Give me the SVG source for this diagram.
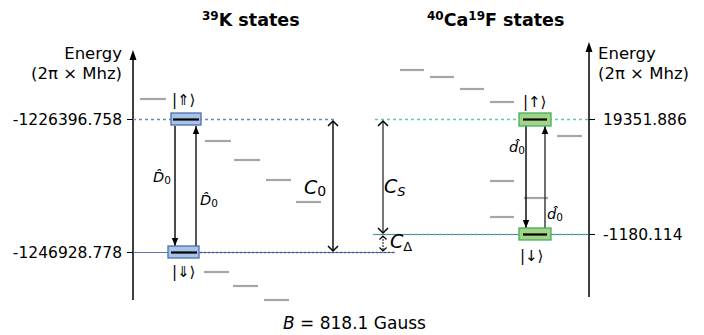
<svg xmlns="http://www.w3.org/2000/svg" width="704" height="335" viewBox="0 0 704 335">
<defs>
<style>
text{font-family:"DejaVu Sans","Liberation Sans",sans-serif;fill:#000}
.lab{font-size:15.5px}
.ax{font-size:16.5px}
.ttl{font-size:17.5px;font-weight:bold}
.ket{font-size:15px}
.op{font-size:14.5px;font-style:italic}
.big{font-size:19px;font-style:italic}
.lvl{stroke:#a6a6a6;stroke-width:2.2}
.axis{stroke:#000;stroke-width:1.5;fill:none}
</style>
<marker id="tri" viewBox="0 0 10 10" refX="10" refY="5" markerWidth="8" markerHeight="8" markerUnits="userSpaceOnUse" orient="auto"><path d="M0,1 L10,5 L0,9 z" fill="#000"/></marker>
<marker id="chev" viewBox="-10 -10 20 20" refX="0" refY="0" markerWidth="20" markerHeight="20" markerUnits="userSpaceOnUse" orient="auto-start-reverse"><path d="M-5,-5 L0,0 L-5,5" fill="none" stroke="#000" stroke-width="1.5"/></marker>
<marker id="chevs" viewBox="-10 -10 20 20" refX="0" refY="0" markerWidth="20" markerHeight="20" markerUnits="userSpaceOnUse" orient="auto-start-reverse"><path d="M-3.5,-3.5 L0,0 L-3.5,3.5" fill="none" stroke="#000" stroke-width="1.2"/></marker>
</defs>
<rect width="704" height="335" fill="#fff"/>

<!-- titles -->
<text class="ttl" x="202" y="26"><tspan font-size="12" dy="-6">39</tspan><tspan dy="6">K states</tspan></text>
<text class="ttl" x="427" y="26"><tspan font-size="12" dy="-6">40</tspan><tspan dy="6">Ca</tspan><tspan font-size="12" dy="-6">19</tspan><tspan dy="6">F states</tspan></text>

<!-- axes -->
<g id="left-axis">
<line class="axis" x1="133" y1="300" x2="133" y2="58"/>
<path d="M133,50 L129.5,60 L136.5,60 z" fill="#000"/>
<text class="ax" x="122" y="59" text-anchor="end">Energy</text>
<text class="ax" x="122" y="79" text-anchor="end">(2π × Mhz)</text>
<line x1="127" y1="119.5" x2="133" y2="119.5" stroke="#000" stroke-width="1"/>
<line x1="127" y1="252.5" x2="133" y2="252.5" stroke="#000" stroke-width="1"/>
<text class="lab" x="122" y="125" text-anchor="end">-1226396.758</text>
<text class="lab" x="122" y="258" text-anchor="end">-1246928.778</text>
</g>
<g id="right-axis">
<line class="axis" x1="589" y1="297" x2="589" y2="50"/>
<path d="M589,42 L585.5,52 L592.5,52 z" fill="#000"/>
<text class="ax" x="598" y="59">Energy</text>
<text class="ax" x="598" y="79">(2π × Mhz)</text>
<line x1="589" y1="119.5" x2="595" y2="119.5" stroke="#000" stroke-width="1"/>
<line x1="589" y1="234.5" x2="595" y2="234.5" stroke="#000" stroke-width="1"/>
<text class="lab" x="603" y="125">19351.886</text>
<text class="lab" x="603" y="240">-1180.114</text>
</g>

<!-- reference lines -->
<g id="ref-lines">
<line x1="133" y1="119.5" x2="337" y2="119.5" stroke="#6b86c7" stroke-width="1.3" stroke-dasharray="3,3"/>
<line x1="133" y1="252.5" x2="395" y2="252.5" stroke="#3d66c0" stroke-width="0.9"/>
<line x1="200" y1="252.5" x2="395" y2="252.5" stroke="#2a3f7a" stroke-width="1.3" stroke-dasharray="2,2" opacity="0.6"/>
<line x1="375" y1="119.5" x2="589" y2="119.5" stroke="#5fcf8f" stroke-width="1.3" stroke-dasharray="3,3"/>
<line x1="373" y1="234.5" x2="589" y2="234.5" stroke="#3d66c0" stroke-width="0.9"/>
<line x1="373" y1="234.5" x2="589" y2="234.5" stroke="#4fc07a" stroke-width="1.3" stroke-dasharray="3,3" opacity="0.8"/>
</g>

<!-- gray levels K -->
<g id="k-levels">
<line class="lvl" x1="140" y1="99" x2="166" y2="99"/>
<line class="lvl" x1="205" y1="141" x2="231" y2="141"/>
<line class="lvl" x1="234" y1="160" x2="260" y2="160"/>
<line class="lvl" x1="266" y1="180" x2="291" y2="180"/>
<line class="lvl" x1="296" y1="202" x2="321" y2="202"/>
<line class="lvl" x1="204" y1="272" x2="229" y2="272"/>
<line class="lvl" x1="233" y1="286" x2="258" y2="286"/>
<line class="lvl" x1="264" y1="300" x2="289" y2="300"/>
</g>
<!-- gray levels CaF -->
<g id="caf-levels">
<line class="lvl" x1="400" y1="70" x2="424" y2="70"/>
<line class="lvl" x1="430" y1="77" x2="454" y2="77"/>
<line class="lvl" x1="460" y1="89" x2="484" y2="89"/>
<line class="lvl" x1="490" y1="102" x2="514" y2="102"/>
<line class="lvl" x1="557" y1="136" x2="582" y2="136"/>
<line class="lvl" x1="490" y1="181" x2="514" y2="181"/>
<line class="lvl" x1="524" y1="198" x2="548" y2="198"/>
<line class="lvl" x1="490" y1="217" x2="514" y2="217"/>
</g>

<!-- connectors -->
<g id="connectors">
<line x1="175" y1="126" x2="175" y2="246" stroke="#000" stroke-width="1.4" marker-end="url(#tri)"/>
<line x1="196" y1="246" x2="196" y2="126" stroke="#444" stroke-width="1.8" marker-end="url(#tri)"/>
<line x1="526" y1="126" x2="526" y2="228" stroke="#000" stroke-width="1.4" marker-end="url(#tri)"/>
<line x1="545" y1="228" x2="545" y2="126" stroke="#222" stroke-width="1.3" marker-end="url(#tri)"/>
<line x1="333" y1="121" x2="333" y2="251" stroke="#000" stroke-width="1.4" marker-start="url(#chev)" marker-end="url(#chev)"/>
<line x1="383" y1="121" x2="383" y2="233" stroke="#555" stroke-width="1.6" marker-start="url(#chev)" marker-end="url(#chev)"/>
<line x1="383" y1="236" x2="383" y2="251" stroke="#333" stroke-width="1.2" stroke-dasharray="2,1" marker-start="url(#chevs)" marker-end="url(#chevs)"/>
</g>

<!-- K states -->
<g id="k-up">
<rect x="171" y="113" width="30" height="12" fill="#a9c3e8" stroke="#4a6fae" stroke-width="1.3"/>
<line x1="173" y1="119.5" x2="199" y2="119.5" stroke="#000" stroke-width="2.2"/>
<text class="ket" x="172" y="105">|⇑⟩</text>
</g>
<g id="k-down">
<rect x="168" y="246" width="31" height="12" fill="#a9c3e8" stroke="#4a6fae" stroke-width="1.3"/>
<line x1="171" y1="252.5" x2="197" y2="252.5" stroke="#000" stroke-width="2.2"/>
<text class="ket" x="172" y="277">|⇓⟩</text>
</g>
<!-- CaF states -->
<g id="caf-up">
<rect x="519" y="113" width="32" height="13" fill="#a3d483" stroke="#3fb060" stroke-width="1.3"/>
<line x1="523" y1="119.5" x2="547" y2="119.5" stroke="#000" stroke-width="2.2"/>
<text class="ket" x="523" y="107">|↑⟩</text>
</g>
<g id="caf-down">
<rect x="519" y="228" width="32" height="12" fill="#a3d483" stroke="#3fb060" stroke-width="1.3"/>
<line x1="523" y1="234.5" x2="547" y2="234.5" stroke="#000" stroke-width="2.2"/>
<text class="ket" x="520" y="261">|↓⟩</text>
</g>

<!-- operator labels -->
<text class="op" x="153" y="182">D̂<tspan font-size="10.5" font-style="normal" dy="2">0</tspan></text>
<text class="op" x="200" y="205">D̂<tspan font-size="10.5" font-style="normal" dy="2">0</tspan></text>
<text class="op" x="509" y="152">d̂<tspan font-size="10.5" font-style="normal" dy="2">0</tspan></text>
<text class="op" x="547" y="219">d̂<tspan font-size="10.5" font-style="normal" dy="2">0</tspan></text>

<text class="big" x="304" y="194">C<tspan font-size="14" font-style="normal" dy="2">0</tspan></text>
<text class="big" x="384" y="193">C<tspan font-size="13" dy="3">S</tspan></text>
<text class="big" x="390" y="248" font-size="17">C<tspan font-size="13" font-style="normal" dy="3">Δ</tspan></text>

<text x="283" y="329" font-size="17"><tspan font-style="italic">B</tspan> = 818.1 Gauss</text>
</svg>
